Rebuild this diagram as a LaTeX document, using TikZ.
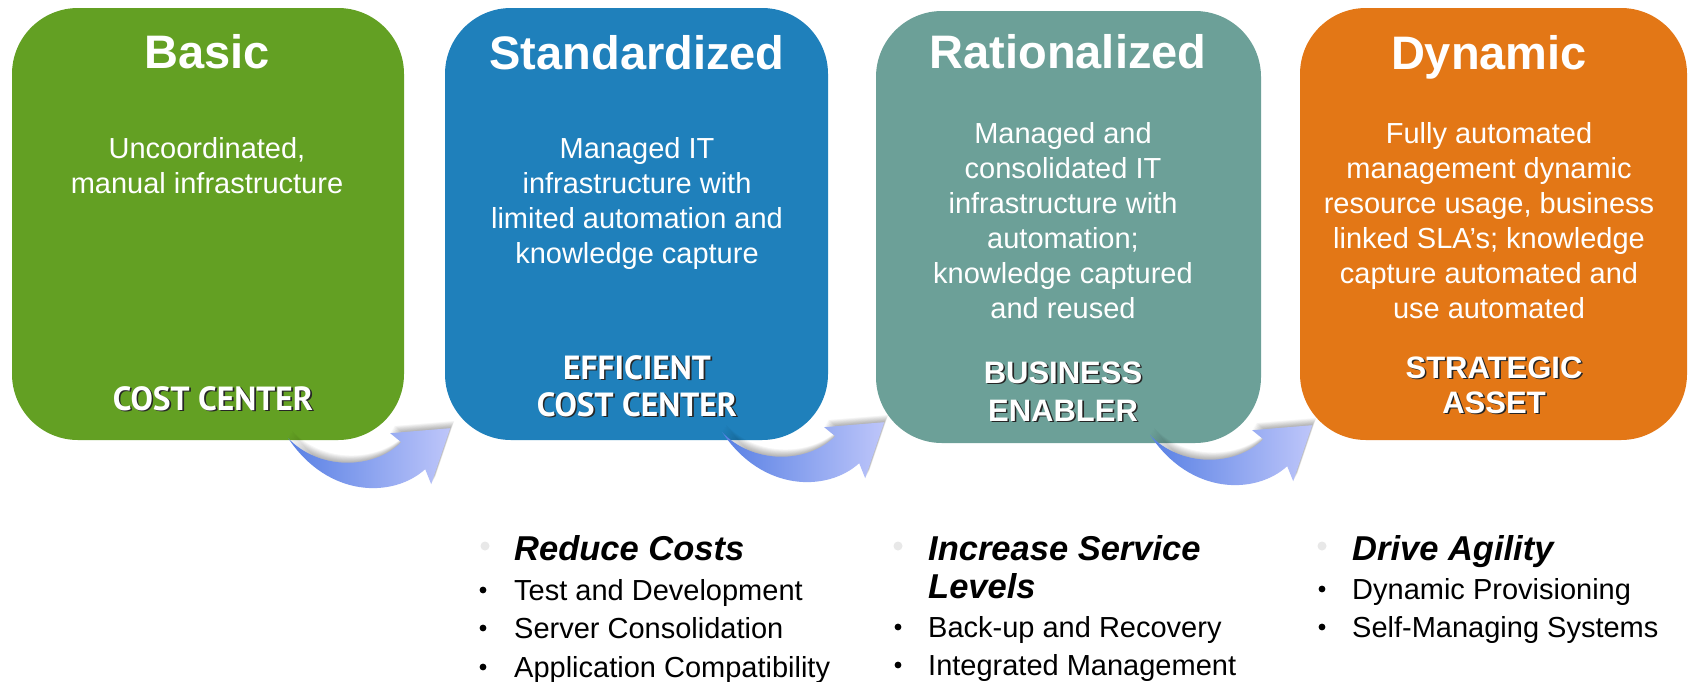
\documentclass[tikz,border=0pt]{standalone}
\usepackage{fontspec}
\setmainfont{Liberation Sans}
\newfontfamily\tahomalike{PT Sans}
\usetikzlibrary{calc}
\definecolor{cgreen}{RGB}{99,160,35}
\definecolor{cblue}{RGB}{31,128,187}
\definecolor{cteal}{RGB}{108,160,152}
\definecolor{corange}{RGB}{227,119,22}
\definecolor{arrowA}{RGB}{88,128,228}
\definecolor{arrowB}{RGB}{190,198,250}
\definecolor{bulletgray}{RGB}{232,232,232}
\newcommand{\shtext}[1]{\makebox[0pt][l]{\hspace{1.6pt}\raisebox{-1.6pt}{\color{black!85}#1}}{\color{white}#1}}
\newcommand{\arrowpath}{(0,0) .. controls (30,32) and (85,32) .. (113,4) -- (102,-5) -- (162,-10) -- (143,46) -- (137,31) .. controls (105,60) and (40,60) .. (0,0) -- cycle}
\begin{document}
\begin{tikzpicture}[x=1pt,y=-1pt,
  stage/.style={rounded corners=66pt, minimum height=432pt, inner sep=0pt, draw=none},
  title/.style={anchor=base, text=white, font=\fontsize{47}{56}\selectfont\bfseries, inner sep=0pt},
  body/.style={anchor=north, text=white, align=center, inner sep=0pt, font=\fontsize{29}{35}\selectfont},
  lab/.style={anchor=north, align=center, inner sep=0pt, font=\fontsize{31}{38}\selectfont\bfseries},
  labt/.style={anchor=north, align=center, inner sep=0pt, font=\fontsize{33.5}{37}\selectfont\tahomalike\bfseries},
  head/.style={anchor=base west, inner sep=0pt, font=\fontsize{34.5}{38}\selectfont\bfseries\itshape},
  item/.style={anchor=base west, inner sep=0pt, font=\fontsize{29}{35}\selectfont},
  pics/bigarrow/.style={code={
    \foreach \d in {1,...,8} {
      \fill[black, opacity=0.04, shift={(0.5*\d,-0.9*\d)}] \arrowpath;
    }
    \path[left color=arrowA, right color=arrowB] \arrowpath;
  }}
]
\fill[white] (0,0) rectangle (1689,681);
\useasboundingbox (0,0) rectangle (1689,681);

% stage boxes
\node[stage, fill=cgreen,  minimum width=392pt] (b1) at (208,224) {};
\node[stage, fill=cblue,   minimum width=383pt] (b2) at (636.5,224) {};
\node[stage, fill=cteal,   minimum width=385pt] (b3) at (1068.5,227) {};
\node[stage, fill=corange, minimum width=387pt] (b4) at (1493.5,224) {};

% curved arrows
\pic at ($(b1.south east)+(-116,-2)$) {bigarrow};
\pic at ($(b2.south east)+(-106,-8)$) {bigarrow};
\pic at ($(b3.south east)+(-111,-8)$) {bigarrow};

% titles
\node[title] (t1) at (207,68) {Basic};
\node[title] (t2) at (637,69) {Standardized};
\node[title] (t3) at (1068,68) {Rationalized};
\node[title] (t4) at (1489,69) {Dynamic};

% descriptions
\node[body] (d1) at (207,134) {\rule{0pt}{24pt}Uncoordinated,\\manual infrastructure};
\node[body] (d2) at (637,134) {\rule{0pt}{24pt}Managed IT\\infrastructure with\\limited automation and\\knowledge capture};
\node[body] (d3) at (1063,119) {\rule{0pt}{24pt}Managed and\\consolidated IT\\infrastructure with\\automation;\\knowledge captured\\and reused};
\node[body] (d4) at (1489,119) {\rule{0pt}{24pt}Fully automated\\management dynamic\\resource usage, business\\linked SLA’s; knowledge\\capture automated and\\use automated};

% labels
\node[labt, anchor=base] (l1) at (213,410) {\shtext{COST CENTER}};
\node[labt] (l2) at (637,353) {\rule{0pt}{26pt}\shtext{EFFICIENT}\\\shtext{COST CENTER}};
\node[lab] (l3) at (1063,357) {\rule{0pt}{26pt}\shtext{BUSINESS}\\\shtext{ENABLER}};
\node[lab, font=\fontsize{31}{35}\selectfont\bfseries] (l4) at (1494,352) {\rule{0pt}{26pt}\shtext{STRATEGIC}\\\shtext{ASSET}};

% bottom lists
\fill[bulletgray] (485,546) circle (4.5);
\node[head] (h1) at (514,560) {Reduce Costs};
\fill (483,590) circle (3.4);
\node[item] (i11) at (514,600) {Test and Development};
\fill (483,628) circle (3.4);
\node[item] (i12) at (514,638) {Server Consolidation};
\fill (483,667) circle (3.4);
\node[item] (i13) at (514,677) {Application Compatibility};

\fill[bulletgray] (898,546) circle (4.5);
\node[head] (h2) at (928,560) {Increase Service};
\node[head] (h2b) at (928,598) {Levels};
\fill (898,627) circle (3.4);
\node[item] (i21) at (928,637) {Back-up and Recovery};
\fill (898,665) circle (3.4);
\node[item] (i22) at (928,675) {Integrated Management};

\fill[bulletgray] (1322,546) circle (4.5);
\node[head] (h3) at (1352,560) {Drive Agility};
\fill (1322,589) circle (3.4);
\node[item] (i31) at (1352,599) {Dynamic Provisioning};
\fill (1322,627) circle (3.4);
\node[item] (i32) at (1352,637) {Self-Managing Systems};
\end{tikzpicture}
\end{document}
